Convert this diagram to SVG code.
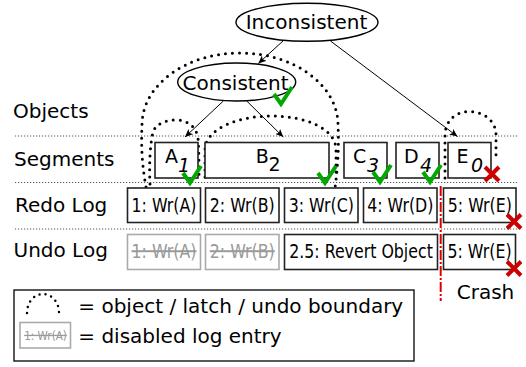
<svg xmlns="http://www.w3.org/2000/svg" width="526" height="367" viewBox="0 0 526 367">
  <style>
    text { font-family: "DejaVu Sans", "Liberation Sans", sans-serif; fill: #000; }
    .lbl { font-size: 20px; }
    .ent { font-size: 20px; text-anchor: middle; }
    .off { fill: #9a9a9a; text-decoration: line-through; }
    .seg { font-size: 19px; }
    .sub { font-size: 19px; font-style: italic; }
    .box { fill: #fff; stroke: #222; stroke-width: 1.6; }
    .boxoff { fill: #fff; stroke: #aaa; stroke-width: 1.6; }
    .sep { fill: none; stroke: #555; stroke-width: 1; stroke-dasharray: 1.2 1.8; }
    .bound { fill: none; stroke: #000; stroke-width: 3; stroke-linecap: round; stroke-dasharray: 0 7; }
    .ell { fill: #fff; stroke: #000; stroke-width: 1.4; }
    .edge { fill: none; stroke: #000; stroke-width: 1; }
    .ok { fill: none; stroke: #00a800; stroke-width: 4; stroke-linejoin: miter; }
    .bad { fill: none; stroke: #cc0000; stroke-width: 4; }
  </style>
  <defs>
    <marker id="arrow" markerWidth="9" markerHeight="7" refX="8" refY="3.5" orient="auto" markerUnits="userSpaceOnUse">
      <path d="M0,0 L8,3.5 L0,7 L2,3.5 z" fill="#000"/>
    </marker>
    <path id="tick" d="M0,0 L7,10 L18,-7"/>
    <path id="cross" d="M-7,-7 L7,7 M7,-7 L-7,7"/>
  </defs>

  <!-- row separators -->
  <g id="separators">
    <line class="sep" x1="15" y1="136" x2="519" y2="136"/>
    <line class="sep" x1="15" y1="182.5" x2="519" y2="182.5"/>
    <line class="sep" x1="15" y1="229" x2="519" y2="229"/>
  </g>

  <!-- row labels -->
  <g id="row-labels">
    <text class="lbl" x="13" y="118">Objects</text>
    <text class="lbl" x="14" y="165.5">Segments</text>
    <text class="lbl" x="15" y="211.5">Redo Log</text>
    <text class="lbl" x="13.5" y="257">Undo Log</text>
  </g>

  <!-- object / latch / undo boundaries -->
  <g id="boundaries">
    <path class="bound" d="M146,187 C142,165 141,145 142,125 C142,85 186,53 240,53 C294,53 338,85 338,125 C339,145 338,165 335,188"/>
    <path class="bound" d="M150,184 C149,165 150,145 153,132 C156,124 165,120 176,120 C187,120 196,126 198,138 C199,150 199,165 199,178"/>
    <path class="bound" d="M205,177 L205,150 C205,128 240,116 271,116 C305,116 336,128 336,150 L336,178"/>
    <path class="bound" d="M445,178 L445,135 C445,124 453,111.5 469,111.5 C483,111.5 496,120 496,135 L496,156"/>
  </g>

  <!-- connectors -->
  <g id="connectors">
    <line class="edge" x1="283.3" y1="40.7" x2="258.3" y2="63.5" marker-end="url(#arrow)"/>
    <line class="edge" x1="330.5" y1="41" x2="457.5" y2="136.5" marker-end="url(#arrow)"/>
    <line class="edge" x1="223.3" y1="101" x2="185" y2="137" marker-end="url(#arrow)"/>
    <line class="edge" x1="246.7" y1="101" x2="283.3" y2="137" marker-end="url(#arrow)"/>
  </g>

  <!-- objects -->
  <g id="obj-inconsistent">
    <ellipse class="ell" cx="307" cy="22.3" rx="71" ry="19"/>
    <text class="lbl" x="306.5" y="29.3" text-anchor="middle">Inconsistent</text>
  </g>
  <g id="obj-consistent">
    <ellipse class="ell" cx="236.7" cy="82" rx="59" ry="19"/>
    <text class="lbl" x="235.5" y="89.5" text-anchor="middle">Consistent</text>
    <use href="#tick" class="ok" transform="translate(274,94)"/>
  </g>

  <!-- segments -->
  <g id="seg-a">
    <rect class="box" x="155" y="142.5" width="43" height="35.5"/>
    <text class="seg" x="165" y="162.5">A</text>
    <text class="sub" x="178" y="172">1</text>
    <use href="#tick" class="ok" transform="translate(183,173)"/>
  </g>
  <g id="seg-b">
    <rect class="box" x="205" y="142.5" width="124" height="35.5"/>
    <text class="seg" x="255.8" y="162.5">B</text>
    <text class="seg" x="268.5" y="171">2</text>
    <use href="#tick" class="ok" transform="translate(318,173)"/>
  </g>
  <g id="seg-c">
    <rect class="box" x="344" y="142.5" width="43" height="35.5"/>
    <text class="seg" x="353" y="162.5">C</text>
    <text class="sub" x="367" y="172">3</text>
    <use href="#tick" class="ok" transform="translate(373,172)"/>
  </g>
  <g id="seg-d">
    <rect class="box" x="396" y="142.5" width="43" height="35.5"/>
    <text class="seg" x="404" y="162.5">D</text>
    <text class="sub" x="420" y="172">4</text>
    <use href="#tick" class="ok" transform="translate(423,172)"/>
  </g>
  <g id="seg-e">
    <rect class="box" x="448" y="142.5" width="43" height="35.5"/>
    <text class="seg" x="456.5" y="162.5">E</text>
    <text class="sub" x="471" y="172">0</text>
    <use href="#cross" class="bad" transform="translate(492,174)"/>
  </g>

  <!-- redo log (entry text is set narrow: scaled to 79% width) -->
  <g id="redo-1">
    <rect class="box" x="127.5" y="188" width="73" height="34.5"/>
    <text class="ent" transform="translate(164 212) scale(0.79 1)">1: Wr(A)</text>
  </g>
  <g id="redo-2">
    <rect class="box" x="205.5" y="188" width="73.5" height="34.5"/>
    <text class="ent" transform="translate(242.3 212) scale(0.79 1)">2: Wr(B)</text>
  </g>
  <g id="redo-3">
    <rect class="box" x="284.5" y="188" width="73.5" height="34.5"/>
    <text class="ent" transform="translate(321.3 212) scale(0.79 1)">3: Wr(C)</text>
  </g>
  <g id="redo-4">
    <rect class="box" x="363.5" y="188" width="73.5" height="34.5"/>
    <text class="ent" transform="translate(400.3 212) scale(0.79 1)">4: Wr(D)</text>
  </g>
  <g id="redo-5">
    <rect class="box" x="443.5" y="188" width="72.5" height="34.5"/>
    <text class="ent" transform="translate(479.8 212) scale(0.79 1)">5: Wr(E)</text>
    <use href="#cross" class="bad" transform="translate(514,221.5)"/>
  </g>

  <!-- undo log -->
  <g id="undo-1">
    <rect class="boxoff" x="127.5" y="234.5" width="73" height="35"/>
    <text class="ent off" transform="translate(164 257.5) scale(0.79 1)">1: Wr(A)</text>
  </g>
  <g id="undo-2">
    <rect class="boxoff" x="205.5" y="234.5" width="73.5" height="35"/>
    <text class="ent off" transform="translate(242.3 257.5) scale(0.79 1)">2: Wr(B)</text>
  </g>
  <g id="undo-revert">
    <rect class="box" x="284.5" y="234.5" width="153" height="35"/>
    <text class="ent" transform="translate(361 257.5) scale(0.79 1)">2.5: Revert Object</text>
  </g>
  <g id="undo-5">
    <rect class="box" x="443.5" y="234.5" width="72" height="35"/>
    <text class="ent" transform="translate(479.5 257.5) scale(0.79 1)">5: Wr(E)</text>
    <use href="#cross" class="bad" transform="translate(514,268.5)"/>
  </g>

  <!-- crash point -->
  <g id="crash">
    <line x1="440.7" y1="186" x2="440.7" y2="301" stroke="#dd0000" stroke-width="2" stroke-dasharray="10 2 2 2"/>
    <text class="lbl" x="485.5" y="299" text-anchor="middle">Crash</text>
  </g>

  <!-- legend -->
  <g id="legend">
    <rect x="14" y="290" width="400" height="71" fill="#fff" stroke="#000" stroke-width="1.3"/>
    <path d="M27,313 C27,301 35,294 43,294 C51,294 59,301 59,313" fill="none" stroke="#000" stroke-width="2.5" stroke-linecap="round" stroke-dasharray="0 6"/>
    <text class="lbl" x="78.3" y="312.5">= object / latch / undo boundary</text>
    <rect class="boxoff" x="20" y="322.5" width="50.5" height="25.5" stroke-width="1.2"/>
    <text class="off" font-size="13" text-anchor="middle" transform="translate(45.5 339.5) scale(0.8 1)">1: Wr(A)</text>
    <text class="lbl" x="78.3" y="342.5">= disabled log entry</text>
  </g>
</svg>
